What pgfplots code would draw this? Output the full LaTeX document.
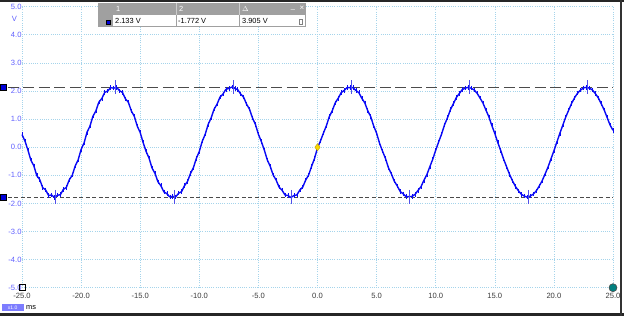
\documentclass[border=0pt]{standalone}
\usepackage{fontspec}
\setmainfont{Liberation Sans}
\usepackage{pgfplots}
\usepackage{pgfplotstable}
\pgfplotsset{compat=1.18}
\definecolor{tracec}{RGB}{10,10,245}
\definecolor{gridc}{RGB}{165,212,235}
\definecolor{ylab}{RGB}{95,95,255}
\definecolor{xlab}{RGB}{60,60,60}
\definecolor{curc}{RGB}{75,75,75}
\definecolor{hdr}{RGB}{160,160,160}
\definecolor{tealc}{RGB}{0,128,128}
\definecolor{badge}{RGB}{125,125,255}
\definecolor{markc}{RGB}{80,80,235}
\definecolor{trig}{RGB}{250,215,0}

\pgfplotstableread{
x y
-25 0.45
-24.75 0.22
-24.5 -0.10
-24.25 -0.46
-24 -0.66
-23.75 -1.01
-23.5 -1.15
-23.25 -1.44
-23 -1.52
-22.75 -1.72
-22.5 -1.70
-22.25 -1.79
-22 -1.71
-21.75 -1.69
-21.5 -1.50
-21.25 -1.43
-21 -1.16
-20.75 -1.00
-20.5 -0.67
-20.25 -0.45
-20 -0.08
-19.75 0.15
-19.5 0.53
-19.25 0.75
-19 1.10
-18.75 1.29
-18.5 1.60
-18.25 1.73
-18 1.95
-17.75 2.00
-17.5 2.12
-17.25 2.10
-17 2.13
-16.75 2.01
-16.5 1.95
-16.25 1.72
-16 1.60
-15.75 1.29
-15.5 1.10
-15.25 0.75
-15 0.52
-14.75 0.16
-14.5 -0.15
-14.25 -0.39
-14 -0.74
-13.75 -0.93
-13.5 -1.23
-13.25 -1.37
-13 -1.59
-12.75 -1.65
-12.5 -1.77
-12.25 -1.75
-12 -1.77
-11.75 -1.64
-11.5 -1.58
-11.25 -1.37
-11 -1.22
-10.75 -0.94
-10.5 -0.73
-10.25 -0.40
-10 -0.15
-9.75 0.21
-9.5 0.46
-9.25 0.81
-9 1.04
-8.75 1.35
-8.5 1.53
-8.25 1.78
-8 1.89
-7.75 2.06
-7.5 2.09
-7.25 2.14
-7 2.09
-6.75 2.05
-6.5 1.89
-6.25 1.78
-6 1.53
-5.75 1.35
-5.5 1.04
-5.25 0.81
-5 0.46
-4.75 0.20
-4.5 -0.10
-4.25 -0.45
-4 -0.68
-3.75 -0.99
-3.5 -1.17
-3.25 -1.42
-3 -1.53
-2.75 -1.70
-2.5 -1.72
-2.25 -1.79
-2 -1.72
-1.75 -1.70
-1.5 -1.53
-1.25 -1.42
-1 -1.17
-0.75 -0.99
-0.5 -0.68
-0.25 -0.40
0 -0.02
0.25 0.22
0.5 0.50
0.75 0.76
1 1.09
1.25 1.30
1.5 1.58
1.75 1.74
2 1.94
2.25 2.02
2.5 2.12
2.75 2.12
3 2.12
3.25 2.02
3.5 1.94
3.75 1.74
4 1.58
4.25 1.30
4.5 1.09
4.75 0.76
5 0.50
5.25 0.14
5.5 -0.14
5.75 -0.40
6 -0.73
6.25 -0.95
6.5 -1.21
6.75 -1.38
7 -1.58
7.25 -1.66
7.5 -1.76
7.75 -1.76
8 -1.75
8.25 -1.68
8.5 -1.54
8.75 -1.41
9 -1.18
9.25 -0.98
9.5 -0.70
9.75 -0.43
10 -0.11
10.25 0.19
10.5 0.47
10.75 0.80
11 1.05
11.25 1.34
11.5 1.55
11.75 1.77
12 1.91
12.25 2.05
12.5 2.10
12.75 2.13
13 2.10
13.25 2.04
13.5 1.92
13.75 1.75
14 1.57
14.25 1.32
14.5 1.08
14.75 0.77
15 0.49
15.25 0.17
15.5 -0.12
15.75 -0.43
16 -0.70
16.25 -0.97
16.5 -1.20
16.75 -1.40
17 -1.55
17.25 -1.68
17.5 -1.74
17.75 -1.78
18 -1.74
18.25 -1.67
18.5 -1.56
18.75 -1.39
19 -1.20
19.25 -0.96
19.5 -0.71
19.75 -0.42
20 -0.13
20.25 0.18
20.5 0.49
20.75 0.78
21 1.07
21.25 1.32
21.5 1.56
21.75 1.76
22 1.92
22.25 2.03
22.5 2.11
22.75 2.13
23 2.10
23.25 2.04
23.5 1.91
23.75 1.76
24 1.55
24.25 1.33
24.5 1.06
24.75 0.79
25 0.60
}\trace

\begin{document}
\begin{tikzpicture}[x=1pt,y=1pt]
\path[use as bounding box, fill=white] (0,0) rectangle (624,316);
\begin{axis}[at={(22pt,28.3pt)}, anchor=south west, scale only axis,
  width=591pt, height=281pt,
  xmin=-25, xmax=25, ymin=-5, ymax=5, clip=false,
  axis line style={draw=none}, major tick length=0pt,
  xtick={-25,-20,...,25},
  xticklabels={-25.0,-20.0,-15.0,-10.0,-5.0,0.0,5.0,10.0,15.0,20.0,25.0},
  ytick={-5,-4,...,5},
  yticklabels={-5.0,-4.0,-3.0,-2.0,-1.0,0.0,1.0,2.0,3.0,4.0,5.0},
  grid=major,
  major grid style={gridc, line width=0.6pt, dash pattern=on 1pt off 1.2pt},
  ticklabel style={font=\fontsize{7.6}{8}\selectfont},
  xticklabel style={xlab, anchor=north, yshift=-5.5pt, inner sep=0pt},
  yticklabel style={ylab, anchor=east, inner sep=0pt, xshift=-0.3pt},
]
% cursor lines
\addplot[curc, line width=0.8pt, dash pattern=on 11pt off 4.5pt] coordinates {(-26.2,2.133) (25,2.133)};
\addplot[curc, line width=0.8pt, dash pattern=on 4pt off 2.5pt] coordinates {(-26.2,-1.772) (25,-1.772)};
% trace
\addplot[tracec, line width=1.4pt, line join=round] table[x=x,y=y] {\trace};
% trace noise spikes
\addplot[only marks, mark=|, mark size=2.2pt, mark options={draw=tracec, line width=0.5pt}] table[x=x,y=y] {\trace};
% peak / trough markers
\addplot[only marks, mark=|, mark size=7pt, mark options={draw=markc, line width=0.6pt}]
  coordinates {(-17.1,2.133) (-7.1,2.133) (2.85,2.133) (12.85,2.133) (22.85,2.133)};
\addplot[only marks, mark=|, mark size=7pt, mark options={draw=markc, line width=0.6pt}]
  coordinates {(-22.2,-1.772) (-12.15,-1.772) (-2.2,-1.772) (7.8,-1.772) (17.8,-1.772)};
% cursor handles
\addplot[only marks, mark=square*, mark size=3pt, mark options={fill=blue!85!black, draw=black, line width=0.4pt}]
  coordinates {(-26.6,2.133) (-26.6,-1.772)};
% trigger
\addplot[only marks, mark=diamond*, mark size=3.6pt, mark options={fill=trig, draw=trig!70!black, line width=0.3pt}]
  coordinates {(0,0)};
% corner markers
\addplot[only marks, mark=square, mark size=3pt, mark options={draw=black, line width=0.6pt}]
  coordinates {(-25,-5)};
\addplot[only marks, mark=*, mark size=4pt, mark options={fill=tealc, draw=black!70, line width=0.6pt}]
  coordinates {(25,-5)};
\node[ylab, font=\fontsize{7.6}{8}\selectfont] at ([xshift=-7.5pt, yshift=-12.3pt]rel axis cs:0,1) {V};
\end{axis}
% readout box
\fill[hdr] (98,289) rectangle (306,313);
\fill[white] (113,290) rectangle (175.5,300.5);
\fill[white] (177,290) rectangle (238.5,300.5);
\fill[white] (240,290) rectangle (304.5,300.5);
\draw[white!80!black, line width=0.5pt] (176.2,301) -- (176.2,313) (239.2,301) -- (239.2,313);
\fill[blue!85!black] (106,291.5) rectangle (110,295.5);
\draw[black, line width=0.3pt] (106,291.5) rectangle (110,295.5);
\begin{scope}[font=\fontsize{7.4}{8}\selectfont]
\node[white, anchor=west, inner sep=0pt] at (116,307) {1};
\node[white, anchor=west, inner sep=0pt] at (179,307) {2};
\node[white, anchor=west, inner sep=0pt] at (242,307) {$\Delta$};
\node[white, anchor=center, inner sep=0pt] at (293,307) {\_};
\node[white, anchor=center, inner sep=0pt] at (302,307.5) {\fontsize{8}{8}\selectfont ×};
\node[black, anchor=west, inner sep=0pt] at (115,295.3) {2.133 V};
\node[black, anchor=west, inner sep=0pt] at (178,295.3) {-1.772 V};
\node[black, anchor=west, inner sep=0pt] at (242,295.3) {3.905 V};
\end{scope}
\draw[gray, line width=0.4pt] (299.5,292) rectangle (302.5,297);
% badge
\fill[badge] (2,4.5) rectangle (23.5,11.5);
\node[white, font=\fontsize{5}{6}\selectfont, inner sep=0pt] at (12.7,8) {x1.0};
\node[black, font=\fontsize{7.4}{8}\selectfont, anchor=west, inner sep=0pt] at (26,8) {ms};
% window borders
\fill[black!85] (0,314) rectangle (624,316);
\fill[black!85] (0,0) rectangle (624,3);
\fill[black!80] (620,0) rectangle (622,316);
\end{tikzpicture}
\end{document}
